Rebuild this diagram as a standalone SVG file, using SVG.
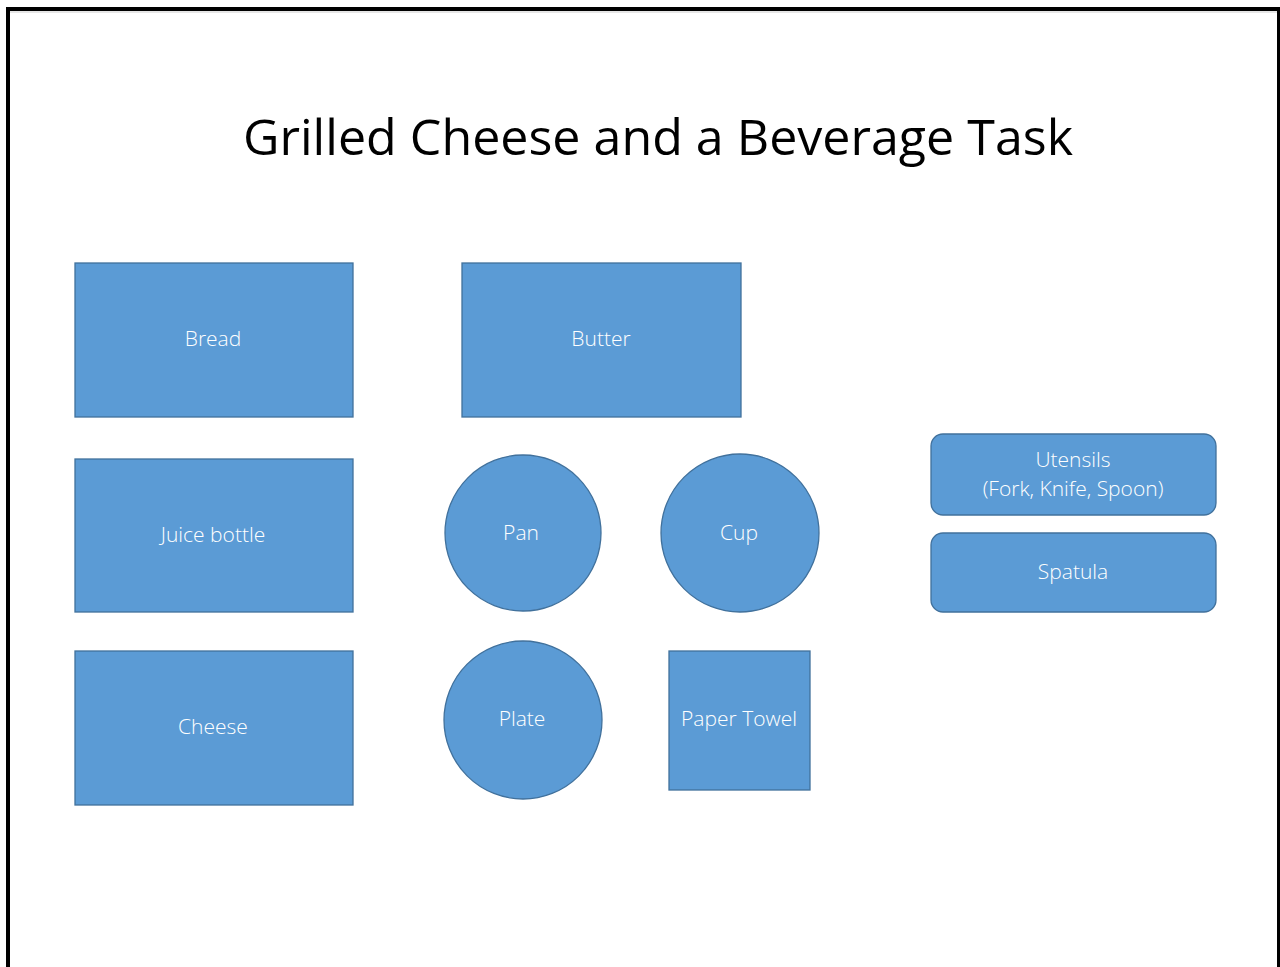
<svg xmlns="http://www.w3.org/2000/svg" width="1280" height="967" viewBox="0 0 1280 967">
<style>
.n{fill:#5B9BD5;stroke:#41719C;stroke-width:1.3}
.t{font-family:"Open Sans","Liberation Sans",sans-serif;font-size:21px;font-weight:300;fill:#FFFFFF;text-anchor:middle}
.title{font-family:"Open Sans","Liberation Sans",sans-serif;font-size:50px;fill:#000000}
</style>
<rect x="0" y="0" width="1280" height="967" fill="#FFFFFF"/>
<line x1="10" y1="12" x2="1277" y2="12" stroke="#E6E6E6" stroke-width="2"/>
<rect x="8" y="9" width="1271" height="1000" fill="none" stroke="#000000" stroke-width="4"/>
<text class="title" x="243" y="155" textLength="830" lengthAdjust="spacingAndGlyphs">Grilled Cheese and a Beverage Task</text>
<g id="connectors"></g>
<g id="bread"><rect class="n" x="75" y="263" width="278" height="154"/><text class="t" x="213" y="346">Bread</text></g>
<g id="butter"><rect class="n" x="462" y="263" width="279" height="154"/><text class="t" x="601" y="346">Butter</text></g>
<g id="juice"><rect class="n" x="75" y="459" width="278" height="153"/><text class="t" x="213" y="542">Juice bottle</text></g>
<g id="cheese"><rect class="n" x="75" y="651" width="278" height="154"/><text class="t" x="213" y="734">Cheese</text></g>
<g id="pan"><circle class="n" cx="523" cy="533" r="78"/><text class="t" x="521" y="540">Pan</text></g>
<g id="cup"><circle class="n" cx="740" cy="533" r="79"/><text class="t" x="739" y="540">Cup</text></g>
<g id="plate"><circle class="n" cx="523" cy="720" r="79"/><text class="t" x="522" y="726">Plate</text></g>
<g id="papertowel"><rect class="n" x="669" y="651" width="141" height="139"/><text class="t" x="739" y="726">Paper Towel</text></g>
<g id="utensils"><rect class="n" x="931" y="434" width="285" height="81" rx="12"/><text class="t" x="1073" y="467">Utensils</text><text class="t" x="1073" y="496">(Fork, Knife, Spoon)</text></g>
<g id="spatula"><rect class="n" x="931" y="533" width="285" height="79" rx="12"/><text class="t" x="1073" y="579">Spatula</text></g>
</svg>
